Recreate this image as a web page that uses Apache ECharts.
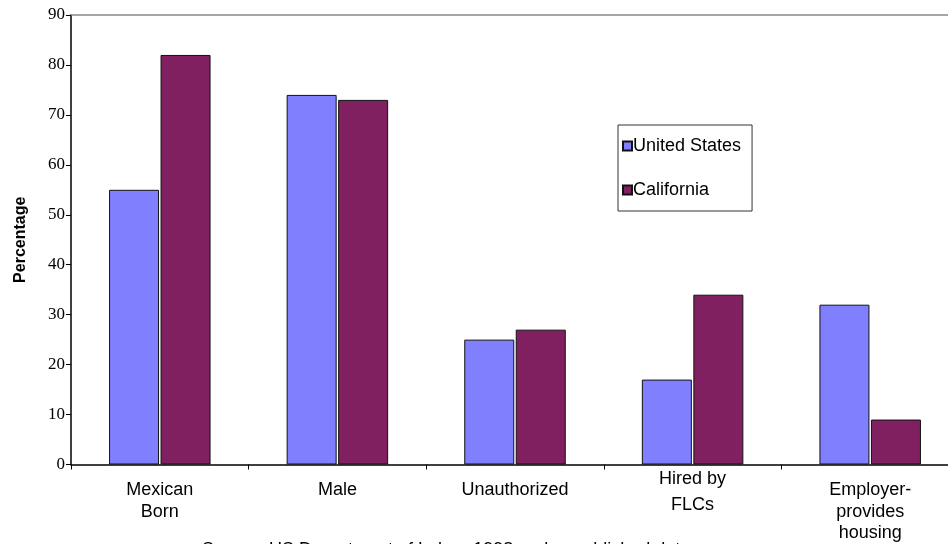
<!DOCTYPE html>
<html>
<head>
<meta charset="utf-8">
<script src="https://cdn.jsdelivr.net/npm/echarts@6/dist/echarts.min.js"></script>
<style>
  html, body { margin: 0; padding: 0; background: #fff; overflow: hidden; }
  /* the plot runs slightly past the right edge of the page */
  #chart { width: 960px; height: 544px; }
</style>
</head>
<body>
<div id="chart"></div>
<script>
// Farmworker characteristics, share of workers (%)
const categories = ['Mexican\nBorn', 'Male', 'Unauthorized', 'Hired by\nFLCs', 'Employer-\nprovides\nhousing'];
const unitedStates = [55, 74, 25, 17, 32];
const california = [82, 73, 27, 34, 9];
const seriesNames = ['United States', 'California'];
const yTicks = { min: 0, max: 90, interval: 10 };
const sourceNote = 'Source: US Department of Labor, 1998 and unpublished data';

const sans = '"Liberation Sans", Arial, sans-serif';
const serif = '"Liberation Serif", "Times New Roman", serif';

const chart = echarts.init(document.getElementById('chart'), null, { renderer: 'canvas' });

chart.setOption({
  animation: false,
  backgroundColor: '#ffffff',
  grid: { left: 71, top: 15, width: 888, height: 452, containLabel: false },
  legend: {
    orient: 'vertical',
    left: 618, top: 125,
    padding: [12, 11, 12, 4],
    itemGap: 26,
    itemWidth: 9, itemHeight: 9,
    icon: 'rect',
    borderColor: '#333', borderWidth: 1,
    textStyle: { fontFamily: sans, fontSize: 18, color: '#000', padding: [0, 0, 0, -4] },
    data: seriesNames
  },
  xAxis: [{
    type: 'category',
    data: categories.map(c => c.startsWith('Hired')
      ? { value: c, textStyle: { lineHeight: 26, padding: [-13, 0, 0, 0] } }
      : { value: c }),
    axisLine: { lineStyle: { color: '#000', width: 1.5 } },
    axisTick: { show: true, length: 5, lineStyle: { color: '#000' } },
    axisLabel: { fontFamily: sans, fontSize: 18, color: '#000', margin: 15, lineHeight: 21.5, interval: 0 },
    splitLine: { show: false }
  }, {
    type: 'category',
    position: 'top',
    data: categories,
    axisLine: { lineStyle: { color: '#888', width: 1.5 } },
    axisTick: { show: false },
    axisLabel: { show: false }
  }],
  yAxis: {
    type: 'value',
    min: yTicks.min, max: yTicks.max, interval: yTicks.interval,
    name: 'Percentage',
    nameLocation: 'middle',
    nameGap: 42,
    nameRotate: 90,
    nameTextStyle: { fontFamily: sans, fontSize: 16, fontWeight: 'bold', color: '#000' },
    axisLine: { show: true, lineStyle: { color: '#000', width: 1.5 } },
    axisTick: { show: true, length: 5, inside: false, lineStyle: { color: '#000' } },
    axisLabel: { fontFamily: serif, fontSize: 17, color: '#000', margin: 6 },
    splitLine: { show: false }
  },
  series: [{
    name: seriesNames[0],
    type: 'bar',
    data: unitedStates,
    barWidth: 50,
    barGap: '3%',
    itemStyle: { color: '#8080FF', borderColor: '#111', borderWidth: 1 }
  }, {
    name: seriesNames[1],
    type: 'bar',
    data: california,
    barWidth: 50,
    barGap: '3%',
    itemStyle: { color: '#802060', borderColor: '#111', borderWidth: 1 }
  }],
  graphic: [{
    type: 'text',
    x: 202, y: 541,
    style: { text: sourceNote, font: '18px ' + sans, fill: '#000', verticalAlign: 'top' }
  }]
});
</script>
</body>
</html>
